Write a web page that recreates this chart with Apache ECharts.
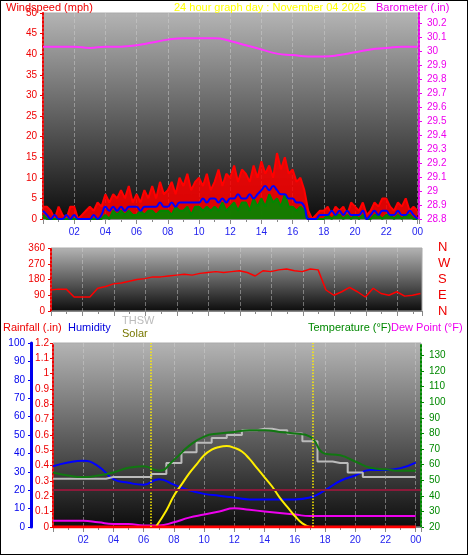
<!DOCTYPE html>
<html><head><meta charset="utf-8">
<script src="https://cdn.jsdelivr.net/npm/echarts@6/dist/echarts.min.js"></script>
<style>
html,body{margin:0;padding:0;background:#fff}
#c{width:466px;height:553px;border:1px solid #000}
</style></head>
<body><div id="c"></div>
<script>
// wind, 15 minute steps
var windGust = [3,3,2,0, 3,1,0,3, 3,0,1,2, 3,2,4,3, 6,4,6,5, 7,5,8,4, 6,4,7,5, 8,5,9,6,
  7,9,6,10, 8,11,7,9, 10,8,11,7, 9,12,8,11, 10,13,9,12, 11,9,13,10, 14,11,13,10, 16,12,15,11,
  12,9,10,7, 2,0,1,2, 2,3,1,3, 2,3,1,4, 3,2,4,1, 2,4,3,5, 5,3,2,4, 3,5,2,3, 2];
var windAvg = [2,1,0,1, 0,0,1,0, 1,0,0,0, 0,1,0,1, 3,2,3,2, 3,2,3,3, 3,2,3,3, 3,3,4,3,
  3,4,3,4, 4,4,4,4, 4,5,4,5, 5,4,5,4, 5,5,6,5, 5,6,5,6, 7,8,7,8, 7,6,6,5,
  5,4,4,3, 0,0,0,1, 1,1,2,1, 2,1,2,1, 1,1,2,0, 1,2,1,2, 2,1,1,2, 1,1,2,1, 0];
var windLow = [1,0,0,0, 0,0,0,0, 0,0,0,0, 0,0,0,0, 1,0,2,1, 2,1,2,1, 1,2,1,2, 2,1,2,2,
  2,1,3,2, 2,3,1,3, 3,2,3,2, 3,2,4,2, 3,4,2,4, 4,2,5,3, 5,3,6,4, 5,3,6,3,
  3,2,3,2, 0,0,0,0, 0,1,0,1, 1,0,1,0, 1,0,1,0, 0,1,1,0, 1,1,0,1, 0,1,1,0, 0];
// hourly
var baro = [30.03,30.03,30.03,30.02,30.03,30.03,30.04,30.06,30.08,30.09,30.09,30.09,30.07,30.04,30.01,29.98,29.97,29.96,29.96,29.97,29.99,30.01,30.02,30.03,30.03];
// half hour steps
var windDir = [80,120,125,125,80,80,80,130,140,155,160,170,180,185,195,195,200,205,210,205,215,220,225,220,225,230,220,200,230,225,235,240,230,225,240,235,120,90,110,135,110,80,130,100,90,110,85,90,100];
// hourly
var temp = [55,53,52,53,55,58,59,56,63,72,78,80,81,82,82,81,80,78,67,66,62,58,57,56,56];
var thsw = [51,51,51,51,52,52,52,54,61,68,74,77,79,82,83,82,80,75,62,61,55,52,52,52,52];
var dewPt = [24,24,24,23,22,22,21,21,23,26,28,30,32,31,30,29,28,27,27,27,27,27,27,27,27];
var humidity = [33,35,36,33,26,24,23,26,23,20,18,17,16,15,15,15,15,16,20,25,28,31,31,32,35];
var solar = [[6.8,0],[7.5,90],[8,170],[8.5,230],[9,290],[9.5,340],[10,390],[10.5,420],[11,435],[11.5,440],[12,430],[12.5,410],[13,370],[13.5,320],[14,270],[14.5,220],[15,160],[15.5,110],[16,60],[16.5,20],[17,0]];
var rain = [0,0,0,0,0,0,0,0,0,0,0,0,0,0,0,0,0,0,0,0,0,0,0,0,0];
var compass = ['N','W','S','E','N'];

function pairs(arr, step) { return arr.map(function (v, i) { return [i * step, v]; }); }
function hh(v) { var h = Math.round(v) % 24; return (h < 10 ? '0' : '') + h; }

var bg = {type:'linear',x:0,y:0,x2:0,y2:1,colorStops:[{offset:0,color:'#b4b4b4'},{offset:1,color:'#0c0c0c'}]};
var split = {show:true,lineStyle:{color:'rgba(210,210,210,0.45)',type:'dashed'}};
var font = 'Liberation Sans';

function xAx(idx, min, max, showLab) {
  return {type:'value',gridIndex:idx,min:min,max:max,interval:2,
    axisLine:{lineStyle:{color:'#888'}},axisTick:{show:true,lineStyle:{color:'#888'}},
    minorTick:{show:true,splitNumber:2,lineStyle:{color:'#888'}},
    axisLabel:{show:showLab,color:'#2222ee',fontSize:10,fontFamily:font,formatter:function(v){return v===0?'':hh(v);},showMaxLabel:false},
    splitLine:split};
}
function yAx(idx, opt) {
  var o = {type:'value',gridIndex:idx,splitLine:{show:false},position:'left',
    axisLine:{show:true,lineStyle:{color:opt.color,type:'dotted',width:2}},
    axisTick:{show:true,length:3,lineStyle:{color:opt.color}},
    axisLabel:{color:opt.color,fontSize:10,fontFamily:font,margin:6}};
  for (var k in opt) if (k!=='color') o[k]=opt[k];
  return o;
}
function ttl(text, left, top, color) {
  return {text:text,left:left,top:top,textStyle:{color:color,fontSize:11,fontWeight:'normal',fontFamily:font}};
}

var chart = echarts.init(document.getElementById('c'));
chart.setOption({
  animation:false,
  backgroundColor:'#fff',
  textStyle:{fontFamily:font},
  title:[
    ttl('Windspeed (mph)',0,-4,'#e00'),
    ttl('24 hour graph day : November 04 2025',168,-4,'#ffff00'),
    ttl('Barometer (.in)',370,-4,'#e0e'),
    ttl('Rainfall (.in)',-3,316,'#e00'),
    ttl('Humidity',62,316,'#00d'),
    ttl('THSW',116,309,'#bbb'),
    ttl('Solar',116,322,'#777700'),
    ttl('Temperature (°F)',302,316,'#080'),
    ttl('Dew Point (°F)',385,316,'#e0e')
  ],
  graphic: compass.map(function (t, i) {
    return {type:'text',left:437,top:240 + i * 16,style:{text:t,fill:'#e00',fontSize:13,fontFamily:font}};
  }),
  grid:[
    {left:42,right:48,top:12,height:206,show:true,backgroundColor:bg,borderColor:'#aaa'},
    {left:50,right:45,top:247,height:63,show:true,backgroundColor:bg,borderColor:'#aaa'},
    {left:52,right:46,top:342,height:184,show:true,backgroundColor:bg,borderColor:'#aaa'}
  ],
  xAxis:[xAx(0,0,24.1,true), xAx(1,0.53,24.1,false), xAx(2,0,24.35,true)],
  yAxis:[
    yAx(0,{color:'#e00',min:0,max:50,interval:5}),
    yAx(0,{color:'#e0e',position:'right',min:28.8,max:30.27,interval:0.1,axisLabel:{color:'#e0e',fontSize:10,fontFamily:font,showMaxLabel:false,formatter:function(v){return +v.toFixed(1);}}}),
    yAx(1,{color:'#e00',min:0,max:360,interval:90}),
    yAx(2,{color:'#e00',min:0,max:1.2,interval:0.1,axisLabel:{color:'#e00',fontSize:10,fontFamily:font,margin:4,formatter:function(v){return +v.toFixed(1);}}}),
    yAx(2,{color:'#00e',min:0,max:100,interval:10,offset:22,axisLine:{show:true,lineStyle:{color:'#00e',width:3}}}),
    yAx(2,{color:'#080',position:'right',min:20,max:138,interval:10,axisLabel:{color:'#080',fontSize:10,fontFamily:font,showMaxLabel:false}}),
    {type:'value',gridIndex:2,min:0,max:1000,show:false}
  ],
  series:[
    {type:'line',xAxisIndex:0,yAxisIndex:1,data:pairs(baro,1),smooth:true,symbol:'none',lineStyle:{color:'#ff33ff',width:2}},
    {type:'line',xAxisIndex:0,yAxisIndex:0,data:pairs(windGust,0.25),symbol:'none',lineStyle:{color:'#ff0000',width:2},areaStyle:{color:'#ff0000',opacity:0.85}},
    {type:'line',xAxisIndex:0,yAxisIndex:0,data:pairs(windLow,0.25),symbol:'none',lineStyle:{color:'#008800',width:2},areaStyle:{color:'#008800',opacity:0.9}},
    {type:'line',xAxisIndex:0,yAxisIndex:0,data:pairs(windAvg,0.25),smooth:true,symbol:'none',lineStyle:{color:'#0000ff',width:2}},
    {type:'line',xAxisIndex:1,yAxisIndex:2,data:pairs(windDir,0.5),symbol:'none',lineStyle:{color:'#ff0000',width:1.5}},
    {type:'line',xAxisIndex:2,yAxisIndex:4,data:pairs(humidity,1),smooth:true,symbol:'none',lineStyle:{color:'#0000ff',width:2}},
    {type:'line',xAxisIndex:2,yAxisIndex:5,data:pairs(thsw,1),step:'middle',symbol:'none',lineStyle:{color:'#bbbbbb',width:2}},
    {type:'line',xAxisIndex:2,yAxisIndex:5,data:pairs(temp,1),smooth:true,symbol:'none',lineStyle:{color:'#117711',width:2}},
    {type:'line',xAxisIndex:2,yAxisIndex:5,data:pairs(dewPt,1),smooth:true,symbol:'none',lineStyle:{color:'#ee00ee',width:2}},
    {type:'line',xAxisIndex:2,yAxisIndex:6,data:solar,smooth:true,symbol:'none',lineStyle:{color:'#ffee00',width:2},
      markLine:{symbol:'none',silent:true,label:{show:false},lineStyle:{color:'#ffee00',type:'dotted',width:1.5},data:[{xAxis:6.5},{xAxis:17.2}]}},
    {type:'line',xAxisIndex:2,yAxisIndex:3,data:pairs(rain,1),symbol:'none',lineStyle:{color:'#ff0000',width:3},
      markLine:{symbol:'none',silent:true,label:{show:false},lineStyle:{color:'#8b1a3a',type:'solid',width:2},data:[{yAxis:0.24}]}}
  ]
});
</script></body></html>
